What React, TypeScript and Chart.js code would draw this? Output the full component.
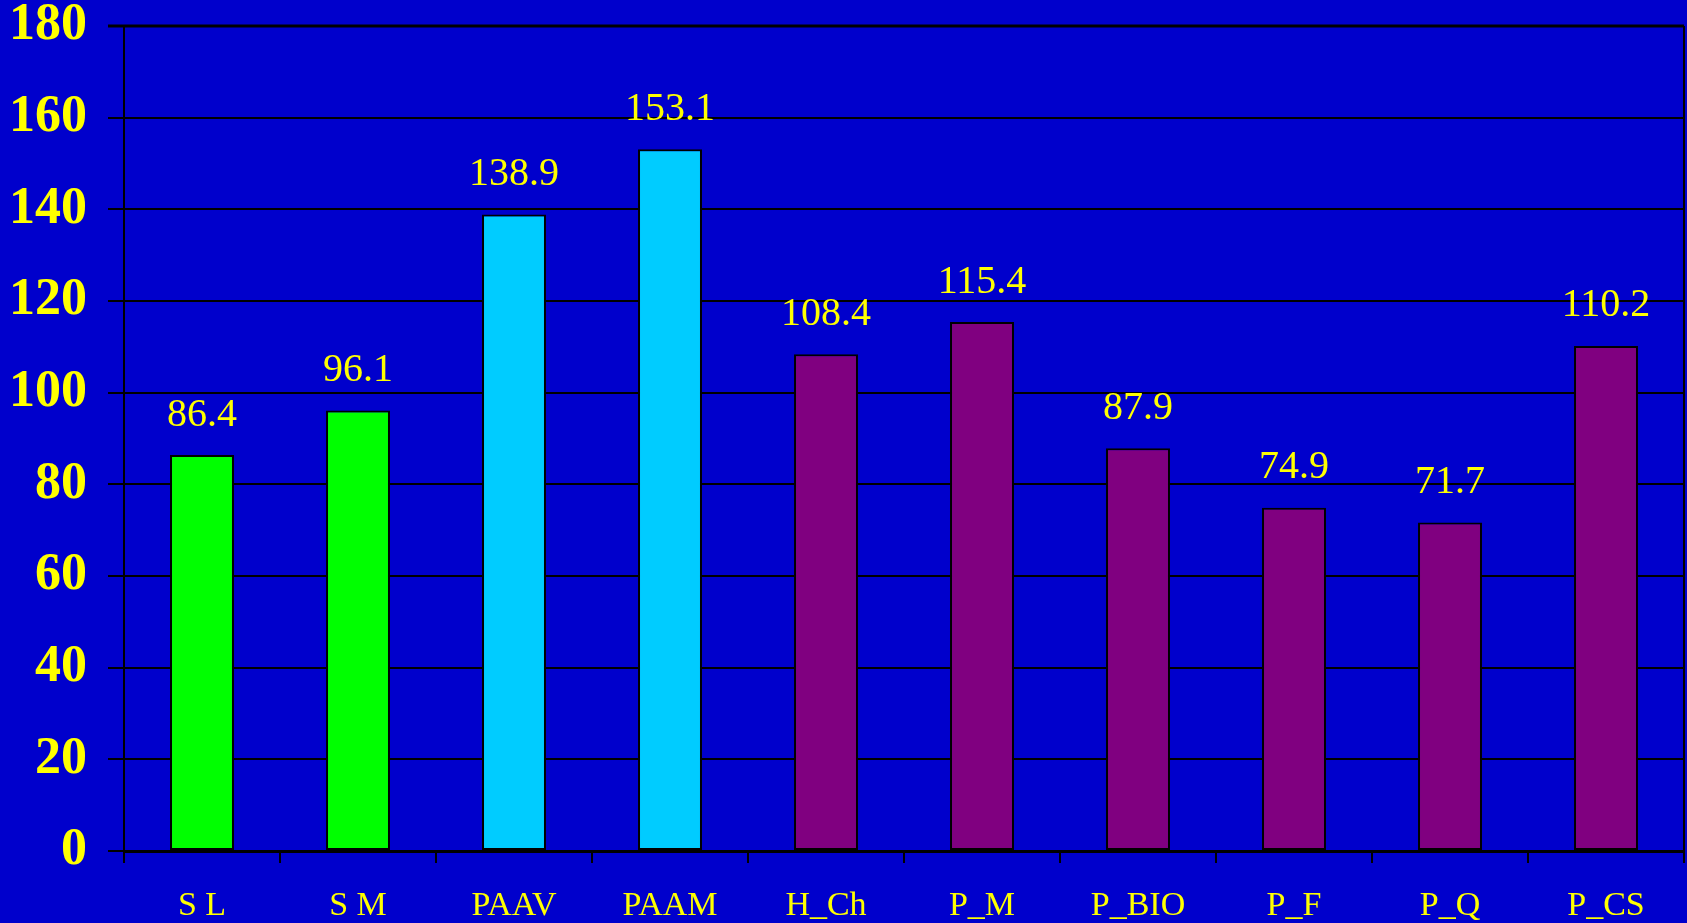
import React, { useEffect, useRef } from "react";
import { Chart, registerables } from "chart.js";

Chart.register(...registerables);

const categories = ["S L", "S M", "PAAV", "PAAM", "H_Ch", "P_M", "P_BIO", "P_F", "P_Q", "P_CS"];
const values = [86.4, 96.1, 138.9, 153.1, 108.4, 115.4, 87.9, 74.9, 71.7, 110.2];
const barColors = [
  "#00FF00", "#00FF00",
  "#00CCFF", "#00CCFF",
  "#800080", "#800080", "#800080", "#800080", "#800080", "#800080",
];
const yTicks = [0, 20, 40, 60, 80, 100, 120, 140, 160, 180];

const BG = "#0000CC";
const YELLOW = "#FFFF00";
const FONT = "'Liberation Serif', 'Times New Roman', serif";

const valueLabels = {
  id: "valueLabels",
  afterDatasetsDraw(chart: any) {
    const ctx = chart.ctx;
    const meta = chart.getDatasetMeta(0);
    ctx.save();
    ctx.fillStyle = YELLOW;
    ctx.font = `40px ${FONT}`;
    ctx.textAlign = "center";
    ctx.textBaseline = "middle";
    meta.data.forEach((bar: any, i: number) => {
      ctx.fillText(values[i].toFixed(1), bar.x, bar.y - 40);
    });
    ctx.restore();
  },
};

const frame = {
  id: "frame",
  afterDraw(chart: any) {
    const { ctx, chartArea } = chart;
    ctx.save();
    ctx.strokeStyle = "#000";
    ctx.lineWidth = 3;
    ctx.beginPath();
    ctx.moveTo(chartArea.left - 16, chartArea.top);
    ctx.lineTo(chartArea.right, chartArea.top);
    ctx.stroke();
    ctx.lineWidth = 2;
    ctx.beginPath();
    ctx.moveTo(chartArea.right, chartArea.top);
    ctx.lineTo(chartArea.right, chartArea.bottom);
    ctx.stroke();
    ctx.restore();
  },
};

export default function App() {
  const ref = useRef<HTMLCanvasElement>(null);
  useEffect(() => {
    document.body.style.margin = "0";
    const chart = new Chart(ref.current!, {
      type: "bar",
      data: {
        labels: categories,
        datasets: [
          {
            data: values,
            backgroundColor: barColors,
            borderColor: "#000",
            borderWidth: 2,
            borderSkipped: false,
            categoryPercentage: 1,
            barPercentage: 0.41,
          },
        ],
      },
      options: {
        animation: false,
        responsive: false,
        devicePixelRatio: 1,
        layout: { padding: { top: 26, right: 3, left: 0, bottom: 0 } },
        plugins: { legend: { display: false }, tooltip: { enabled: false } },
        scales: {
          x: {
            grid: {
              offset: true,
              drawOnChartArea: false,
              drawTicks: true,
              tickLength: 12,
              color: "#000",
              lineWidth: 2,
            },
            border: { display: true, color: "#000", width: 3 },
            ticks: {
              color: YELLOW,
              font: { family: FONT, size: 34 },
              padding: 23,
              maxRotation: 0,
              autoSkip: false,
            },
            afterFit(scale: any) {
              scale.height = 72;
              scale.paddingLeft = 0;
              scale.paddingRight = 0;
            },
          },
          y: {
            min: 0,
            max: 180,
            afterBuildTicks(scale: any) {
              scale.ticks = yTicks.map((v) => ({ value: v }));
            },
            grid: {
              color: "#000",
              lineWidth: 2,
              tickLength: 16,
            },
            border: { display: true, color: "#000", width: 2 },
            ticks: {
              color: YELLOW,
              font: { family: FONT, size: 52, weight: "bold" },
              padding: 21,
            },
            afterFit(scale: any) {
              scale.width = 124;
              scale.paddingTop = 0;
              scale.paddingBottom = 0;
            },
          },
        },
      },
      plugins: [valueLabels, frame],
    });
    return () => chart.destroy();
  }, []);
  return (
    <div style={{ position: "absolute", left: 0, top: 0, width: 1687, height: 923, background: BG }}>
      <canvas ref={ref} width={1687} height={923} style={{ display: "block" }} />
    </div>
  );
}
